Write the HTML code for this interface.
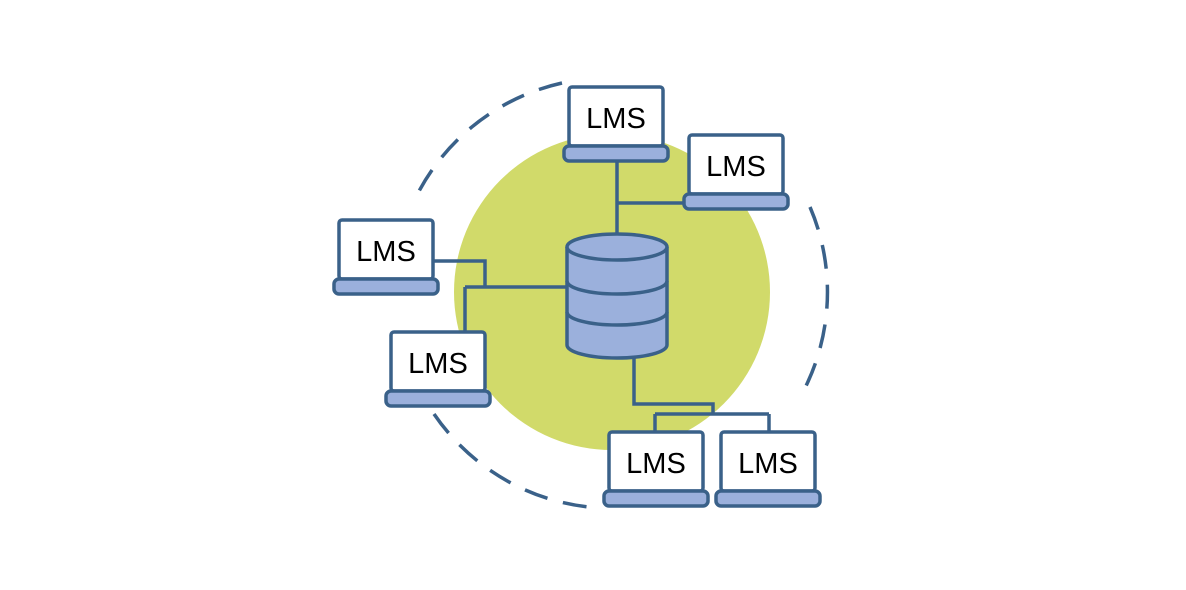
<!DOCTYPE html><html><head><style>body{margin:0;background:#fff}svg{display:block}</style></head><body>
<svg width="1186" height="590" viewBox="0 0 1186 590" xmlns="http://www.w3.org/2000/svg">
<defs><g id="lap"><rect x="0" y="0" width="94" height="59" rx="3" fill="#fff" stroke="#3a6189" stroke-width="3.5"/><rect x="-5" y="59" width="104" height="15" rx="5" fill="#9bb0dc" stroke="#3a6189" stroke-width="3.5"/><text x="47" y="41" text-anchor="middle" font-family="Liberation Sans, sans-serif" font-size="29" fill="#000">LMS</text></g></defs>
<circle cx="612" cy="292" r="158" fill="#d1da6a"/>
<g fill="none" stroke="#3a6189" stroke-width="3.5" stroke-dasharray="24 16">
<path d="M562 83A216 216 0 0 0 418 193"/>
<path d="M810 207A216 216 0 0 1 805 388"/>
<path d="M434 414A216 216 0 0 0 600 508"/>
</g>
<g fill="none" stroke="#3a6189" stroke-width="3.5">
<path d="M617 160V235M617 203H688"/>
<path d="M433 261H485V287M465 287H568M465 287V333"/>
<path d="M634 355V404H713V414M655 414H769M655 414V432M769 414V432"/>
</g>
<g stroke="#3a6189" stroke-width="3.5" fill="#9bb0dc">
<path d="M567 247V345A50 13 0 0 0 667 345V247"/>
<path d="M567 312A50 13 0 0 0 667 312" fill="none"/>
<path d="M567 281A50 13 0 0 0 667 281" fill="none"/>
<ellipse cx="617" cy="247" rx="50" ry="13"/>
</g>
<use href="#lap" x="569" y="87"/>
<use href="#lap" x="689" y="135"/>
<use href="#lap" x="339" y="220"/>
<use href="#lap" x="391" y="332"/>
<use href="#lap" x="609" y="432"/>
<use href="#lap" x="721" y="432"/>
</svg></body></html>
